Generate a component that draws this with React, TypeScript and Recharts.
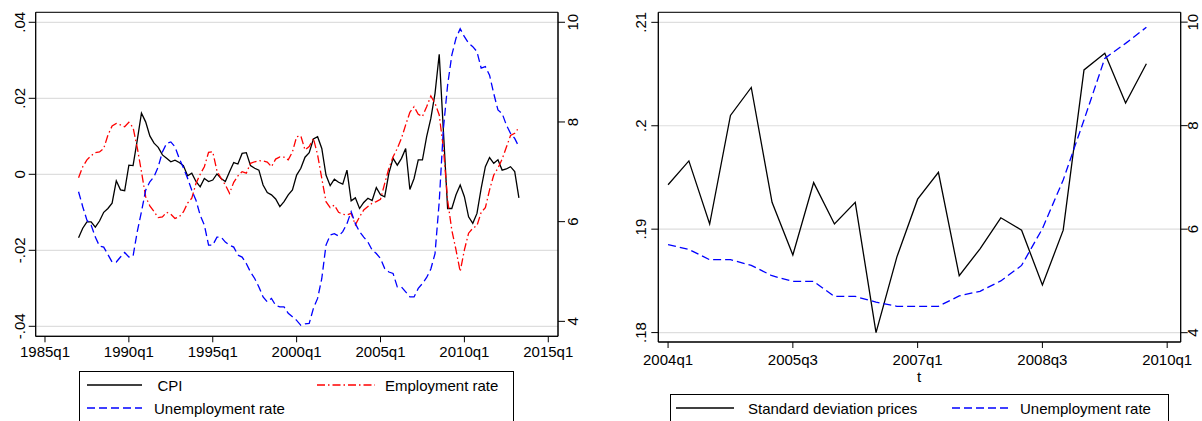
import React from "react";
import {
  LineChart,
  Line,
  XAxis,
  YAxis,
  CartesianGrid,
  ReferenceArea,
} from "recharts";

// left panel: quarterly, 1987q1 .. 2013q2
const START_YEAR = 1987;
const cpi = [
  -0.0167, -0.0142, -0.0125, -0.0125, -0.0139, -0.0123, -0.01, -0.009, -0.0076, -0.0017,
  -0.0041, -0.0043, 0.0024, 0.0023, 0.009, 0.0161, 0.0138, 0.0101, 0.0082, 0.0071,
  0.0051, 0.0042, 0.0033, 0.0037, 0.0031, 0.0023, -0.0004, 0.0003, -0.0019, -0.0033,
  -0.0011, -0.0019, -0.0015, 0.0001, -0.0011, -0.0019, 0.0007, 0.0031, 0.0027, 0.0055,
  0.0057, 0.0023, 0.0016, 0.0011, -0.0028, -0.0048, -0.0054, -0.0065, -0.0085, -0.0072,
  -0.0054, -0.0041, -0.0002, 0.0016, 0.0045, 0.0057, 0.0093, 0.0099, 0.0068, -0.0002,
  -0.003, -0.0013, -0.0021, -0.0026, 0.0011, -0.007, -0.0062, -0.009, -0.0074, -0.0063,
  -0.0069, -0.0035, -0.0054, -0.0059, 0.0003, 0.0042, 0.0024, 0.0042, 0.0068, -0.004,
  -0.0011, 0.0038, 0.0038, 0.0099, 0.0147, 0.0213, 0.0316, 0.0113, -0.009, -0.009,
  -0.0054, -0.0028, -0.0059, -0.0112, -0.0129, -0.0103, -0.0037, 0.002, 0.0044, 0.0029,
  0.0038, 0.0011, 0.0014, 0.002, 0.0007, -0.0062,
];
const employment = [
  -0.0009, 0.002, 0.0038, 0.0049, 0.0057, 0.0059, 0.0068, 0.0103, 0.0127, 0.0134,
  0.013, 0.0125, 0.0137, 0.0123, 0.007, 0.0007, -0.0059, -0.0083, -0.0098, -0.0114,
  -0.0112, -0.01, -0.0105, -0.0116, -0.0112, -0.0099, -0.0076, -0.0063, -0.0024, 0.0,
  0.002, 0.0058, 0.0059, 0.0009, -0.0011, -0.0028, -0.005, -0.0021, -0.0004, 0.0007,
  0.0003, 0.0029, 0.0033, 0.0036, 0.0035, 0.0032, 0.002, 0.004, 0.0046, 0.0045,
  0.0038, 0.0059, 0.0099, 0.0101, 0.0064, 0.0073, 0.0095, 0.0051, -0.0011, -0.0072,
  -0.0088, -0.0081, -0.01, -0.0105, -0.0107, -0.0103, -0.0133, -0.0112, -0.0094, -0.0085,
  -0.0076, -0.0072, -0.0066, -0.0024, 0.0016, 0.0046, 0.0068, 0.0095, 0.013, 0.0163,
  0.0178, 0.0158, 0.0152, 0.0178, 0.0206, 0.0187, 0.0156, 0.0068, -0.0068, -0.0147,
  -0.0199, -0.0256, -0.0199, -0.0155, -0.0142, -0.0135, -0.01, -0.0088, -0.0041, -0.0002,
  0.0016, 0.004, 0.0071, 0.0102, 0.0108, 0.0123,
];
const unemployment = [
  6.6, 6.3, 6.03, 5.93, 5.69, 5.51, 5.49, 5.34, 5.19, 5.19,
  5.29, 5.38, 5.29, 5.31, 5.8, 6.2, 6.63, 6.8, 6.9, 7.1,
  7.4, 7.57, 7.6, 7.5, 7.27, 7.08, 6.87, 6.63, 6.43, 6.13,
  5.93, 5.53, 5.53, 5.69, 5.69, 5.59, 5.53, 5.49, 5.33, 5.29,
  5.16, 4.99, 4.86, 4.69, 4.49, 4.39, 4.46, 4.32, 4.29, 4.29,
  4.16, 4.09, 4.02, 3.92, 3.95, 3.96, 4.26, 4.46, 4.86, 5.53,
  5.73, 5.76, 5.71, 5.8, 5.96, 6.2, 5.96, 5.8, 5.69, 5.59,
  5.43, 5.36, 5.26, 5.06, 4.99, 4.96, 4.69, 4.69, 4.59, 4.49,
  4.49, 4.66, 4.76, 4.88, 5.05, 5.36, 6.4, 7.87, 8.74, 9.34,
  9.68, 9.87, 9.71, 9.58, 9.51, 9.41, 9.08, 9.11, 8.94, 8.57,
  8.24, 8.17, 7.94, 7.77, 7.67, 7.5,
];
const leftTickYears = [1985, 1990, 1995, 2000, 2005, 2010, 2015];
const leftTicks = [-0.04, -0.02, 0, 0.02, 0.04];
const rightTicks = [4, 6, 8, 10];

// right panel: quarterly, 2004q1 .. 2009q4
const sdPrices = [
  0.1943, 0.1966, 0.1905, 0.201, 0.2037, 0.1926, 0.1875, 0.1945, 0.1905, 0.1926,
  0.18, 0.1873, 0.1929, 0.1955, 0.1855, 0.1881, 0.1911, 0.1899, 0.1846, 0.1899,
  0.2054, 0.207, 0.2022, 0.206,
];
const unempRight = [
  5.7, 5.61, 5.41, 5.41, 5.3, 5.1, 4.99, 4.99, 4.7, 4.7,
  4.59, 4.51, 4.51, 4.51, 4.71, 4.8, 5.0, 5.3, 6.01, 6.95,
  8.11, 9.3, 9.59, 9.9,
];
const quarterTickPos = [0, 6, 12, 18, 24];
const quarterTickLabels = ["2004q1", "2005q3", "2007q1", "2008q3", "2010q1"];
const sdTicks = [0.18, 0.19, 0.2, 0.21];

const leftRows = cpi.map((v, i) => ({
  t: START_YEAR + i / 4,
  cpi: v,
  emp: employment[i],
  unemp: unemployment[i],
}));
const rightRows = sdPrices.map((v, i) => ({ q: i, sd: v, unemp: unempRight[i] }));

const FONT = "'Liberation Sans', Arial, Helvetica, sans-serif";
const GRID = "#dedede";
const BLUE_DASH = "8 4";
const RED_DASH = "8 3 1.5 3";

const stataNum = (v: number) => (v === 0 ? "0" : String(v).replace("0.", "."));

function vTick(dx: number, fmt: (v: number) => string) {
  return (props: any) => {
    const { x, y, payload } = props;
    const bx = x + dx;
    return (
      <text
        x={bx}
        y={y}
        transform={`rotate(-90 ${bx} ${y})`}
        textAnchor="middle"
        fontSize={15}
        fontFamily={FONT}
        fill="#000"
      >
        {fmt(payload.value)}
      </text>
    );
  };
}

const xTickStyle = { fontSize: 15, fill: "#000", fontFamily: FONT };

function LeftPanel() {
  const xDom: [number, number] = [1984.446, 2015.58];
  const yDom: [number, number] = [-0.04263, 0.04263];
  const y2Dom: [number, number] = [3.7, 10.2];
  return (
    <LineChart
      width={600}
      height={380}
      data={leftRows}
      margin={{ top: 12.3, right: 0, bottom: 0, left: 0 }}
      style={{ overflow: "visible" }}
    >
      <CartesianGrid yAxisId="left" vertical={false} stroke={GRID} strokeWidth={1.2} />
      <XAxis
        dataKey="t"
        type="number"
        domain={xDom}
        ticks={leftTickYears}
        tickFormatter={(v) => `${v}q1`}
        height={43.7}
        tickSize={6}
        tickMargin={4}
        tick={xTickStyle}
        stroke="#000"
        interval={0}
      />
      <YAxis
        yAxisId="left"
        domain={yDom}
        ticks={leftTicks}
        width={35.7}
        tickSize={7}
        tickMargin={0}
        tick={vTick(-4, stataNum)}
        stroke="#000"
        interval={0}
      />
      <YAxis
        yAxisId="right"
        orientation="right"
        domain={y2Dom}
        ticks={rightTicks}
        width={42}
        tickSize={7}
        tickMargin={0}
        tick={vTick(13, String)}
        stroke="#000"
        interval={0}
      />
      <Line yAxisId="left" dataKey="cpi" stroke="#000" strokeWidth={1.3} dot={false} isAnimationActive={false} />
      <Line yAxisId="left" dataKey="emp" stroke="#ff0000" strokeWidth={1.3} strokeDasharray={RED_DASH} dot={false} isAnimationActive={false} />
      <Line yAxisId="right" dataKey="unemp" stroke="#0000ff" strokeWidth={1.3} strokeDasharray={BLUE_DASH} dot={false} isAnimationActive={false} />
      <ReferenceArea yAxisId="left" x1={xDom[0]} x2={xDom[1]} y1={yDom[0]} y2={yDom[1]} fill="none" stroke="#000" strokeWidth={1} />
    </LineChart>
  );
}

function RightPanel() {
  const xDom: [number, number] = [-0.47, 24.65];
  const yDom: [number, number] = [0.17909, 0.21097];
  const y2Dom: [number, number] = [3.82, 10.19];
  return (
    <LineChart
      width={582}
      height={400}
      data={rightRows}
      margin={{ top: 12.3, right: 0, bottom: 0, left: 0 }}
      style={{ overflow: "visible" }}
    >
      <CartesianGrid yAxisId="left" vertical={false} stroke={GRID} strokeWidth={1.2} />
      <XAxis
        dataKey="q"
        type="number"
        domain={xDom}
        ticks={quarterTickPos}
        tickFormatter={(v) => quarterTickLabels[quarterTickPos.indexOf(v)]}
        height={58}
        tickSize={6}
        tickMargin={6}
        tick={xTickStyle}
        stroke="#000"
        interval={0}
      />
      <YAxis
        yAxisId="left"
        domain={yDom}
        ticks={sdTicks}
        width={38.3}
        tickSize={7}
        tickMargin={0}
        tick={vTick(-5, stataNum)}
        stroke="#000"
        interval={0}
      />
      <YAxis
        yAxisId="right"
        orientation="right"
        domain={y2Dom}
        ticks={rightTicks}
        width={21.3}
        tickSize={7}
        tickMargin={0}
        tick={vTick(10, String)}
        stroke="#000"
        interval={0}
      />
      <Line yAxisId="left" dataKey="sd" stroke="#000" strokeWidth={1.3} dot={false} isAnimationActive={false} />
      <Line yAxisId="right" dataKey="unemp" stroke="#0000ff" strokeWidth={1.3} strokeDasharray={BLUE_DASH} dot={false} isAnimationActive={false} />
      <ReferenceArea yAxisId="left" x1={xDom[0]} x2={xDom[1]} y1={yDom[0]} y2={yDom[1]} fill="none" stroke="#000" strokeWidth={1} />
    </LineChart>
  );
}

function Legends() {
  const txt = { fontSize: 15, fontFamily: FONT, fill: "#000" };
  return (
    <svg
      width={1202}
      height={421}
      style={{ position: "absolute", left: 0, top: 0, pointerEvents: "none" }}
    >
      {/* left legend */}
      <rect x={79.5} y={371.5} width={434} height={80} fill="none" stroke="#000" strokeWidth={1} />
      <line x1={87} x2={142} y1={385} y2={385} stroke="#000" strokeWidth={1.3} />
      <text x={157.5} y={390.5} {...txt}>CPI</text>
      <line x1={317} x2={375} y1={385} y2={385} stroke="#ff0000" strokeWidth={1.3} strokeDasharray={RED_DASH} />
      <text x={385} y={390.5} {...txt}>Employment rate</text>
      <line x1={87} x2={142} y1={408} y2={408} stroke="#0000ff" strokeWidth={1.3} strokeDasharray={BLUE_DASH} />
      <text x={154} y={413.5} {...txt}>Unemployment rate</text>

      {/* right panel axis title */}
      <text x={919} y={382} textAnchor="middle" {...txt}>t</text>

      {/* right legend */}
      <rect x={670.5} y={394.5} width={498} height={60} fill="none" stroke="#000" strokeWidth={1} />
      <line x1={676} x2={734} y1={408} y2={408} stroke="#000" strokeWidth={1.3} />
      <text x={748} y={413.5} {...txt}>Standard deviation prices</text>
      <line x1={952} x2={1011} y1={408} y2={408} stroke="#0000ff" strokeWidth={1.3} strokeDasharray={BLUE_DASH} />
      <text x={1020} y={413.5} {...txt}>Unemployment rate</text>
    </svg>
  );
}

export default function App() {
  return (
    <div
      style={{
        position: "absolute",
        left: 0,
        top: 0,
        width: 1202,
        height: 421,
        background: "#fff",
        fontFamily: FONT,
        overflow: "hidden",
      }}
    >
      <div style={{ position: "absolute", left: 0, top: 0 }}>
        <LeftPanel />
      </div>
      <div style={{ position: "absolute", left: 620, top: 0 }}>
        <RightPanel />
      </div>
      <Legends />
    </div>
  );
}
